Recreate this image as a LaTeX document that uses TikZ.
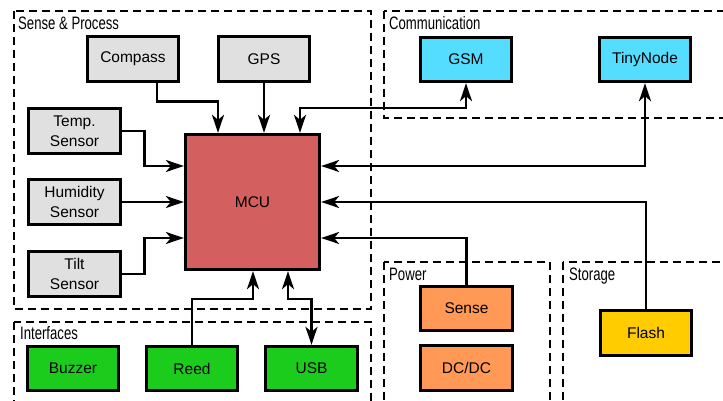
\documentclass[tikz,border=0pt]{standalone}
\usepackage{fontspec}
\setmainfont{Liberation Sans}
\newfontfamily\grpfont[FakeStretch=0.73]{Liberation Sans}
\usetikzlibrary{arrows.meta}

\definecolor{sensegray}{HTML}{E0E0E0}
\definecolor{mcured}{HTML}{D45F5F}
\definecolor{commcyan}{HTML}{55DDFF}
\definecolor{ifgreen}{HTML}{1CCC1C}
\definecolor{pworange}{HTML}{FF9955}
\definecolor{storyellow}{HTML}{FFCC00}

\tikzset{
  blk/.style={draw, line width=2.8pt, minimum width=91.5pt, minimum height=44.5pt,
    inner sep=1pt, align=center, font=\fontsize{15.5}{19.5}\selectfont},
  region/.style={draw, line width=2.4pt, dash pattern=on 8pt off 5pt},
  grplabel/.style={anchor=base west, inner sep=0pt, font=\grpfont\fontsize{18}{20}\selectfont},
  bigtip/.tip={Stealth[length=18pt,width=12pt,inset=5pt]},
  arr/.style={line width=2.6pt, -bigtip},
  darr/.style={line width=2.6pt, bigtip-bigtip}
}

\begin{document}
\begin{tikzpicture}[x=1pt, y=-1pt]
  \useasboundingbox (0,0) rectangle (723,401);
  \fill[white] (0,0) rectangle (723,401);
  \clip (0,0) rectangle (723,401);

  % functional groups
  \draw[region] (14,11) rectangle (371,309);
  \draw[region] (14,322) rectangle (371,430);
  \draw[region] (384,11) rectangle (740,118);
  \draw[region] (384,262) rectangle (550,430);
  \draw[region] (563,262) rectangle (740,430);

  \node[grplabel] (lsense) at (18,30) {Sense \& Process};
  \node[grplabel] (lcomm) at (389,30) {Communication};
  \node[grplabel] (lif) at (20,339) {Interfaces};
  \node[grplabel] (lpow) at (389,280) {Power};
  \node[grplabel] (lstor) at (569,280) {Storage};

  % blocks
  \node[blk, fill=mcured, minimum width=134.5pt, minimum height=135.5pt] (mcu) at (252.5,202) {MCU};

  \node[blk, fill=sensegray] (compass) at (133,59) {Compass};
  \node[blk, fill=sensegray] (gps) at (264,59) {GPS};
  \node[blk, fill=sensegray] (temp) at (74.5,131) {Temp.\\Sensor};
  \node[blk, fill=sensegray] (hum) at (74.5,202) {Humidity\\Sensor};
  \node[blk, fill=sensegray] (tilt) at (74.5,274) {Tilt\\Sensor};

  \node[blk, fill=commcyan] (gsm) at (466,59.5) {GSM};
  \node[blk, fill=commcyan] (tiny) at (645,59.5) {TinyNode};

  \node[blk, fill=ifgreen] (buzzer) at (73,368.5) {Buzzer};
  \node[blk, fill=ifgreen] (reed) at (192,368.5) {Reed};
  \node[blk, fill=ifgreen] (usb) at (311.5,368.5) {USB};

  \node[blk, fill=pworange] (psense) at (466.5,308.5) {Sense};
  \node[blk, fill=pworange] (dcdc) at (466.5,368) {DC/DC};

  \node[blk, fill=storyellow] (flash) at (646,333) {Flash};

  % connections
  \draw[arr] ([xshift=24]compass.south) -- ++(0,19) -| ([xshift=-34.5]mcu.north);
  \draw[arr] (gps.south) -- (gps.south |- mcu.north);
  \coordinate (gsmbend) at (466,108);
  \draw[darr] ([xshift=47.5]mcu.north) |- (gsmbend) -- (gsm.south);
  \draw[darr] ([yshift=36]mcu.east) -| (tiny.south);
  \draw[arr] (flash.north) |- (mcu.east);
  \draw[arr] (psense.north) |- ([yshift=-36]mcu.east);

  \draw[arr] (temp.east) -- ++(23,0) |- ([yshift=36]mcu.west);
  \draw[arr] (hum.east) -- (hum.east -| mcu.west);
  \draw[arr] (tilt.east) -- ++(23,0) |- ([yshift=-36]mcu.west);

  \draw[arr] (reed.north) -- ++(0,-46) -| ([xshift=0.5]mcu.south);
  \draw[darr] ([xshift=35.5]mcu.south) -- ++(0,28) -| (usb.north);
\end{tikzpicture}
\end{document}
